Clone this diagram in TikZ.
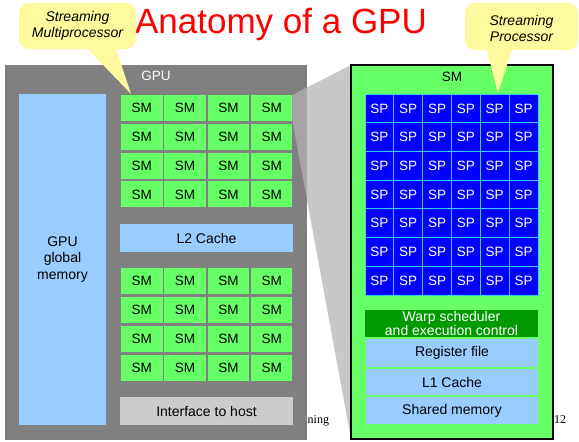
\documentclass[tikz,border=0pt]{standalone}
\usepackage{fontspec}
\setmainfont{Liberation Sans}
\newfontfamily\footerfont{Liberation Serif}
\definecolor{gpugray}{HTML}{808080}
\definecolor{smgreen}{HTML}{66FF66}
\definecolor{memblue}{HTML}{99CCFF}
\definecolor{hostgray}{HTML}{CCCCCC}
\definecolor{spblue}{HTML}{0000FF}
\definecolor{spline}{HTML}{33CCFF}
\definecolor{warpgreen}{HTML}{009900}
\definecolor{calloutyellow}{HTML}{FFFA9E}
\definecolor{projgray}{HTML}{B4B4B4}
\begin{document}
\begin{tikzpicture}[x=1pt,y=-1pt,
  block/.style={inner sep=0pt, outer sep=0pt, anchor=north west, align=center,
    font=\fontsize{14}{16}\selectfont},
  smcell/.style={block, fill=smgreen, minimum width=41.5pt, minimum height=26pt,
    font=\fontsize{13.5}{15}\selectfont},
  spcell/.style={block, fill=spblue, draw=spline, line width=0.8pt, text=white,
    minimum width=28.83pt, minimum height=28.71pt, font=\fontsize{13.5}{15}\selectfont},
  membox/.style={block, fill=memblue},
  callouttext/.style={align=center, font=\itshape\fontsize{14}{16}\selectfont},
]
\useasboundingbox (0,0) rectangle (579,442);

% title
\node[anchor=base, text=red, font=\fontsize{35}{40}\selectfont] (title) at (281,33) {Anatomy of a GPU};

% footer remnants
\node[anchor=base west, inner sep=0pt, font=\footerfont\fontsize{12}{14}\selectfont] (footer) at (307.5,423) {ning};
\node[anchor=base west, inner sep=0pt, font=\footerfont\fontsize{12}{14}\selectfont] (pagenum) at (554,423) {12};

% GPU chip
\node[block, fill=gpugray, minimum width=302pt, minimum height=375pt] (gpu) at (5,65) {};
\node[text=white, font=\fontsize{13.5}{15}\selectfont] (gpulabel) at (156,76) {GPU};
\node[membox, minimum width=87pt, minimum height=331pt,
  text width=87pt, font=\fontsize{14}{16.5}\selectfont] (globalmem) at (19,94) {GPU\\global\\memory};
\node[membox, minimum width=173pt, minimum height=28pt] (l2) at (120,224) {L2 Cache};
\node[block, fill=hostgray, minimum width=173pt, minimum height=28pt] (host) at (120,397) {Interface to host};

% enlarged SM box
\node[block, fill=smgreen, minimum width=202pt, minimum height=374pt] (smbig) at (351,65) {};

% SM array, upper and lower groups
\foreach \r in {0,...,3}
  \foreach \c in {0,...,3} {
    \node[smcell] (smtop-\r-\c) at ({121+43.33*\c},{95+28.8*\r}) {SM};
    \node[smcell] (smbot-\r-\c) at ({121+43.33*\c},{268+29*\r}) {SM};
  }

% zoom projection from one SM to the enlarged SM
\fill[projgray, opacity=0.73] (smtop-0-3.north east) -- (smbig.north west)
  -- (smbig.south west) -- (smtop-0-3.south east) -- cycle;
\draw[black, line width=1.4pt] (smbig.north west) rectangle (smbig.south east);
\node[font=\fontsize{13.5}{15}\selectfont] (smlabel) at (452,77) {SM};

% streaming processors
\foreach \r in {0,...,6}
  \foreach \c in {0,...,5}
    \node[spcell] (sp-\r-\c) at ({365+28.83*\c},{94+28.71*\r}) {SP};

\node[block, fill=warpgreen, text=white, minimum width=173pt, minimum height=27pt,
  font=\fontsize{14}{13}\selectfont] (warp) at (365,310) {Warp scheduler\\and execution control};
\node[membox, minimum width=172pt, minimum height=28pt] (regfile) at (366,339) {Register file};
\node[membox, minimum width=172pt, minimum height=26pt] (l1) at (366,369) {L1 Cache};
\node[membox, minimum width=172pt, minimum height=27pt] (shmem) at (366,397) {Shared memory};

% callouts
\fill[calloutyellow, rounded corners=10pt] (19,3) rectangle (136,49);
\coordinate (tipsm) at (131,94);
\fill[calloutyellow] (85,46) -- (tipsm) -- (115,46) -- cycle;
\node[callouttext] (callsm) at (77.5,26) {Streaming\\Multiprocessor};

\fill[calloutyellow, rounded corners=10pt] (465,3) rectangle (578,50);
\coordinate (tipsp) at (498,93);
\fill[calloutyellow] (486,47) -- (tipsp) -- (513,47) -- cycle;
\node[callouttext] (callsp) at (521.5,28) {Streaming\\Processor};
\end{tikzpicture}
\end{document}
